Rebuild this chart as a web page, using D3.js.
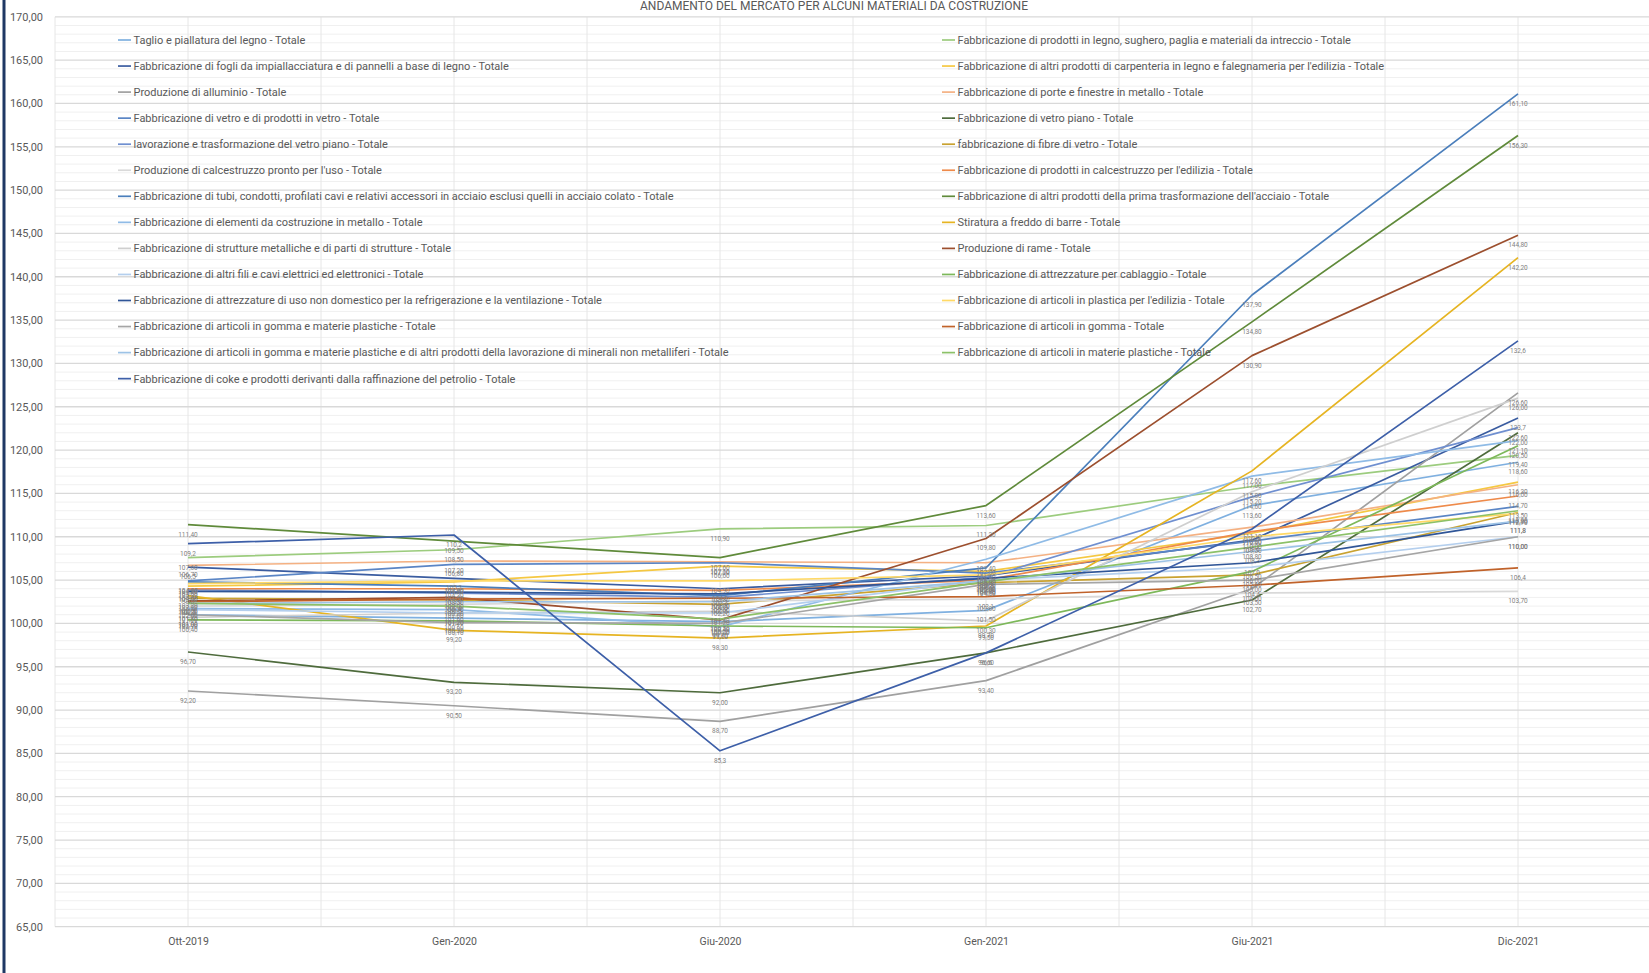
<!DOCTYPE html>
<html>
<head>
<meta charset="utf-8">
<script src="https://cdn.jsdelivr.net/npm/d3@7"></script>
<style>
  html, body { margin: 0; padding: 0; background: #ffffff; }
  svg { display: block; }
</style>
</head>
<body>
<svg id="chart" width="1649" height="973"></svg>
<script>
// ---------------- DATA ----------------
const title = "ANDAMENTO DEL MERCATO PER ALCUNI MATERIALI DA COSTRUZIONE";
const categories = ["Ott-2019", "Gen-2020", "Giu-2020", "Gen-2021", "Giu-2021", "Dic-2021"];
const yTickValues = [65, 70, 75, 80, 85, 90, 95, 100, 105, 110, 115, 120, 125, 130, 135, 140, 145, 150, 155, 160, 165, 170];

const seriesNames = [
  "Taglio e piallatura del legno - Totale",
  "Fabbricazione di prodotti in legno, sughero, paglia e materiali da intreccio - Totale",
  "Fabbricazione di fogli da impiallacciatura e di pannelli a base di legno - Totale",
  "Fabbricazione di altri prodotti di carpenteria in legno e falegnameria per l'edilizia - Totale",
  "Produzione di alluminio - Totale",
  "Fabbricazione di porte e finestre in metallo - Totale",
  "Fabbricazione di vetro e di prodotti in vetro - Totale",
  "Fabbricazione di vetro piano - Totale",
  "lavorazione e trasformazione del vetro piano - Totale",
  "fabbricazione di fibre di vetro - Totale",
  "Produzione di calcestruzzo pronto per l'uso - Totale",
  "Fabbricazione di prodotti in calcestruzzo per l'edilizia - Totale",
  "Fabbricazione di tubi, condotti, profilati cavi e relativi accessori in acciaio esclusi quelli in acciaio colato - Totale",
  "Fabbricazione di altri prodotti della prima trasformazione dell'acciaio - Totale",
  "Fabbricazione di elementi da costruzione in metallo - Totale",
  "Stiratura a freddo di barre - Totale",
  "Fabbricazione di strutture metalliche e di parti di strutture - Totale",
  "Produzione di rame - Totale",
  "Fabbricazione di altri fili e cavi elettrici ed elettronici - Totale",
  "Fabbricazione di attrezzature per cablaggio - Totale",
  "Fabbricazione di attrezzature di uso non domestico per la refrigerazione e la ventilazione - Totale",
  "Fabbricazione di articoli in plastica per l'edilizia - Totale",
  "Fabbricazione di articoli in gomma e materie plastiche - Totale",
  "Fabbricazione di articoli in gomma - Totale",
  "Fabbricazione di articoli in gomma e materie plastiche e di altri prodotti della lavorazione di minerali non metalliferi - Totale",
  "Fabbricazione di articoli in materie plastiche - Totale",
  "Fabbricazione di coke e prodotti derivanti dalla raffinazione del petrolio - Totale"
];

// values per series: Ott-2019, Gen-2020, Giu-2020, Gen-2021, Giu-2021, Dic-2021
const taglioLegno        = [101.0, 100.6, 100.2, 101.5, 113.6, 118.6];
const prodottiLegno      = [107.6, 108.5, 110.9, 111.3, 115.8, 119.4];
const fogliPannelli      = [106.5, 105.2, 104.0, 105.5, 109.6, 123.7];
const carpenteriaLegno   = [104.3, 104.8, 106.6, 106.0, 110.4, 116.3];
const alluminio          = [92.2, 90.5, 88.7, 93.4, 104.0, 126.6];
const porteFinestre      = [106.7, 107.2, 107.1, 107.0, 111.1, 116.0];
const vetroProdotti      = [104.9, 106.8, 107.0, 105.8, 109.5, 113.5];
const vetroPiano         = [96.7, 93.2, 92.0, 96.6, 102.7, 122.0];
const lavorazioneVetro   = [103.9, 103.5, 103.0, 105.3, 114.6, 122.6];
const fibreVetro         = [102.9, 102.7, 102.2, 104.7, 105.6, 112.8];
const calcestruzzoPronto = [102.0, 102.2, 102.6, 102.8, 103.5, 103.7];
const prodottiCalcestr   = [104.0, 104.0, 103.8, 105.0, 110.6, 114.7];
const tubiAcciaio        = [104.8, 104.3, 103.2, 106.4, 137.9, 161.1];
const altriAcciaio       = [111.4, 109.5, 107.6, 113.6, 134.8, 156.3];
const elementiMetallo    = [101.7, 101.6, 99.6, 107.4, 117.0, 121.1];
const stiraturaBarre     = [103.2, 99.2, 98.3, 99.7, 117.6, 142.2];
const struttureMetall    = [100.7, 101.2, 101.4, 100.3, 115.2, 126.0];
const rame               = [102.6, 103.0, 100.4, 109.8, 130.9, 144.8];
const filiCavi           = [101.6, 101.2, 101.2, 105.0, 106.5, 110.0];
const cablaggio          = [100.4, 100.3, 99.7, 99.5, 106.0, 120.5];
const refrigerazione     = [103.7, 103.6, 103.4, 105.2, 107.0, 111.8];
const plasticaEdilizia   = [104.6, 104.9, 104.9, 105.6, 110.0, 112.7];
const gommaPlastiche     = [101.0, 100.1, 100.0, 104.5, 105.0, 110.0];
const articoliGomma      = [102.5, 102.8, 102.9, 103.1, 104.4, 106.4];
const gommaMinerali      = [102.3, 102.5, 102.5, 104.9, 108.3, 111.8];
const materiePlastiche   = [102.3, 102.0, 100.5, 104.8, 108.8, 113.0];
const cokePetrolio       = [109.2, 110.2, 85.3, 96.6, 110.9, 132.6];

const seriesValues = [
  taglioLegno, prodottiLegno, fogliPannelli, carpenteriaLegno, alluminio, porteFinestre,
  vetroProdotti, vetroPiano, lavorazioneVetro, fibreVetro, calcestruzzoPronto, prodottiCalcestr,
  tubiAcciaio, altriAcciaio, elementiMetallo, stiraturaBarre, struttureMetall, rame,
  filiCavi, cablaggio, refrigerazione, plasticaEdilizia, gommaPlastiche, articoliGomma,
  gommaMinerali, materiePlastiche, cokePetrolio
];
// number of decimals shown in each series' data labels
const labelDecimals = [2,2,1,2,2,2, 2,2,2,2,2,2, 2,2,2,2,2,2, 2,2,1,2,2,1, 1,2,1];

// ---------------- STYLE ----------------
const seriesColors = [
  "#7fb0e0", "#9ccc7e", "#3a5ca0", "#f5c842", "#a0a0a0", "#f4b183",
  "#5a85c5", "#4e6b3c", "#6f8fd0", "#c9a230", "#d9d9d9", "#ee8a4a",
  "#4a7ebb", "#5f8a3a", "#8fbbe6", "#e6b422", "#cfcfcf", "#9c4f2e",
  "#b4cfee", "#7db85a", "#2f5597", "#ffd966", "#a5a5a5", "#c0622a",
  "#9dc3e6", "#8cc168", "#3d5fa8"
];

const W = 1649, H = 973;
const plot = { left: 55, right: 1651, top: 16.8, bottom: 926.7 };
const svg = d3.select("#chart");

const x = d3.scalePoint().domain(categories).range([plot.left, plot.right]).padding(0.5);
const y = d3.scaleLinear().domain([65, 170]).range([plot.bottom, plot.top]);
const step = x.step();

const fmt = (v, d) => v.toFixed(d).replace(".", ",");

// ---------------- GRID ----------------
const grid = svg.append("g");
// minor horizontal gridlines (every 1)
grid.selectAll("line.minor").data(d3.range(66, 170, 1).filter(v => v % 5 !== 0))
  .join("line")
  .attr("x1", plot.left).attr("x2", W)
  .attr("y1", d => y(d)).attr("y2", d => y(d))
  .attr("stroke", "#f0f0f0").attr("stroke-width", 1);
// vertical gridlines (every half category)
const vLines = [];
for (let i = 0; i <= categories.length * 2; i++) vLines.push(plot.left + i * step / 2);
grid.selectAll("line.v").data(vLines).join("line")
  .attr("x1", d => d).attr("x2", d => d)
  .attr("y1", plot.top).attr("y2", plot.bottom)
  .attr("stroke", "#e6e6e6").attr("stroke-width", 1);
// major horizontal gridlines
grid.selectAll("line.major").data(yTickValues).join("line")
  .attr("x1", plot.left).attr("x2", W)
  .attr("y1", d => y(d)).attr("y2", d => y(d))
  .attr("stroke", "#d9d9d9").attr("stroke-width", 1.3);

// ---------------- AXES ----------------
const yAxis = svg.append("g").attr("transform", `translate(${plot.left - 9},0)`)
  .call(d3.axisLeft(y).tickValues(yTickValues).tickSize(0).tickFormat(d => fmt(d, 2)));
yAxis.select(".domain").remove();
yAxis.selectAll("text").attr("font-family", "Roboto, sans-serif").attr("font-size", 11)
  .attr("fill", "#595959").attr("dx", 0);

const xAxis = svg.append("g").attr("transform", `translate(0,${plot.bottom})`)
  .call(d3.axisBottom(x).tickSize(0).tickPadding(11));
xAxis.select(".domain").remove();
xAxis.selectAll("text").attr("font-family", "Roboto, sans-serif").attr("font-size", 10.5)
  .attr("fill", "#595959");

// ---------------- LINES ----------------
const line = d3.line().x((d, i) => x(categories[i])).y(d => y(d));
const linesG = svg.append("g");
seriesValues.forEach((vals, s) => {
  linesG.append("path").datum(vals)
    .attr("d", line)
    .attr("fill", "none")
    .attr("stroke", seriesColors[s])
    .attr("stroke-width", 1.7)
    .attr("stroke-linejoin", "round");
});

// ---------------- DATA LABELS ----------------
const labelsG = svg.append("g").attr("font-family", "Roboto, sans-serif")
  .attr("font-size", 6.5).attr("fill", "#7f7f7f").attr("text-anchor", "middle");
seriesValues.forEach((vals, s) => {
  vals.forEach((v, i) => {
    labelsG.append("text")
      .attr("x", x(categories[i]))
      .attr("y", y(v) + 12)
      .text(fmt(v, labelDecimals[s]));
  });
});

// ---------------- LEGEND ----------------
const legend = svg.append("g").attr("font-family", "Roboto, sans-serif").attr("fill", "#595959");
const colX = [118, 942];
const rowY0 = 40, rowH = 26.05;
seriesNames.forEach((name, s) => {
  const col = s % 2, row = Math.floor(s / 2);
  const g = legend.append("g").attr("transform", `translate(${colX[col]},${rowY0 + row * rowH})`);
  g.append("line").attr("x1", 0).attr("x2", 13).attr("y1", 0).attr("y2", 0)
    .attr("stroke", seriesColors[s]).attr("stroke-width", 1.7);
  g.append("text").attr("x", 15.5).attr("y", 0).attr("dy", "0.35em")
    .attr("font-size", 10).text(name);
});
// fit legend font to the measured width of the first entry (172 px in the reference)
const firstText = legend.select("text").node();
const measured = firstText.getComputedTextLength();
const fs = 10 * 172 / measured;
legend.selectAll("text").attr("font-size", fs);

// ---------------- TITLE ----------------
svg.append("text").attr("x", 834).attr("y", 10).attr("text-anchor", "middle")
  .attr("font-family", "Roboto, sans-serif").attr("font-size", 12).attr("fill", "#595959")
  .text(title);

// ---------------- FRAME ----------------
svg.append("line").attr("x1", 4).attr("x2", 4).attr("y1", 0).attr("y2", H)
  .attr("stroke", "#1f3864").attr("stroke-width", 3);
</script>
</body>
</html>
